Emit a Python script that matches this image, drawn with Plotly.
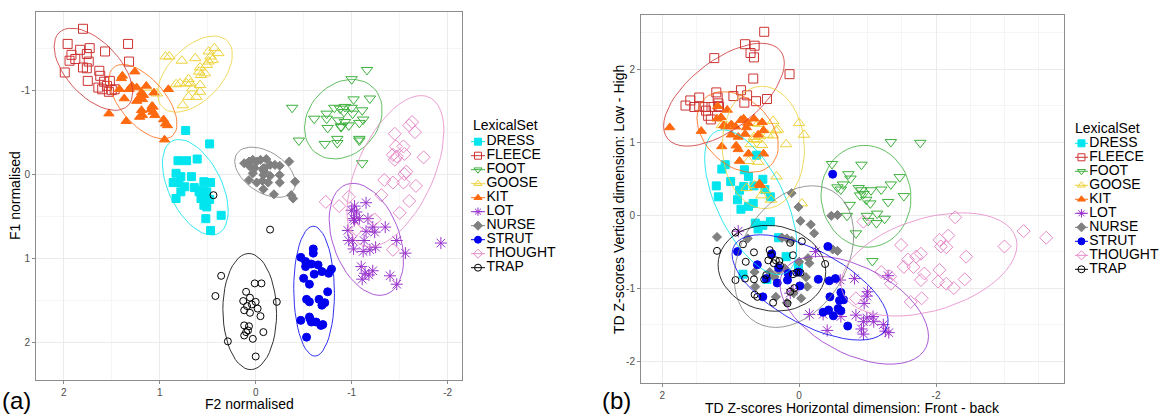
import numpy as np
import plotly.graph_objects as go

# ---------------------------------------------------------------------------
# Panel (a): normalised formants (F2 on x, F1 on y), one pair of lists per set
# ---------------------------------------------------------------------------
dress_f2 = [0.73, 0.48, 0.81, 0.72, 0.61, 0.83, 0.78, 0.67, 0.86, 0.80, 0.54, 0.47, 0.64, 0.74, 0.55, 0.78, 0.59, 0.51, 0.83, 0.57, 0.48, 0.54, 0.51, 0.36, 0.52, 0.47]
dress_f1 = [-0.52, -0.36, -0.16, -0.16, -0.18, -0.01, 0.03, 0.03, 0.10, 0.10, 0.09, 0.10, 0.16, 0.15, 0.19, 0.21, 0.21, 0.21, 0.29, 0.29, 0.30, 0.37, 0.39, 0.49, 0.53, 0.67]

fleece_f2 = [1.80, 1.96, 1.33, 1.83, 1.73, 1.92, 1.76, 1.57, 1.88, 1.94, 1.74, 1.32, 1.80, 1.76, 1.99, 1.63, 1.62, 1.52, 1.75, 1.58, 1.64, 1.55, 1.47, 1.53, 1.60, 1.50]
fleece_f1 = [-1.73, -1.55, -1.55, -1.48, -1.50, -1.42, -1.43, -1.46, -1.37, -1.35, -1.34, -1.34, -1.27, -1.26, -1.21, -1.23, -1.17, -1.11, -1.11, -1.10, -1.03, -1.05, -1.01, -0.98, -1.01, -1.00]

foot_f2 = [-1.16, -1.00, -1.02, -1.19, -0.38, -0.61, -0.74, -0.82, -0.88, -0.93, -1.00, -1.11, -0.92, -1.01, -1.12, -0.74, -0.86, -0.93, -0.97, -0.89, -0.75, -1.08, -0.45, -0.72, -0.85, -0.85, -1.08, -1.08, -1.11, -0.89]
foot_f1 = [-1.24, -1.13, -0.89, -0.90, -0.79, -0.66, -0.72, -0.79, -0.78, -0.80, -0.79, -0.76, -0.74, -0.72, -0.65, -0.66, -0.64, -0.62, -0.58, -0.57, -0.55, -0.61, -0.40, -0.36, -0.37, -0.42, -0.40, -0.42, -0.13, -0.56]

goose_f2 = [0.94, 0.90, 0.77, 0.63, 0.49, 0.43, 0.39, 0.47, 0.49, 0.51, 0.58, 0.59, 0.53, 0.57, 0.70, 0.79, 0.83, 0.72, 0.68, 0.58, 0.66, 0.70, 0.62, 0.58, 0.76, 1.14, 1.03, 0.45]
goose_f1 = [-1.40, -1.40, -1.35, -1.38, -1.46, -1.50, -1.44, -1.40, -1.34, -1.30, -1.27, -1.22, -1.20, -1.18, -1.13, -1.08, -1.07, -1.08, -1.08, -1.06, -1.02, -0.92, -0.92, -0.98, -0.82, -1.03, -0.96, -1.36]

kit_f2 = [1.39, 1.40, 1.26, 1.42, 1.32, 1.29, 1.37, 1.24, 1.14, 1.19, 1.17, 1.22, 1.24, 1.18, 1.06, 0.91, 1.08, 1.07, 1.09, 1.19, 1.21, 1.05, 1.07, 1.18, 0.96, 0.94, 0.92, 1.53, 1.35, 0.95]
kit_f1 = [-1.17, -1.14, -1.22, -1.01, -1.01, -1.05, -0.90, -1.03, -1.05, -0.97, -0.94, -0.90, -0.87, -0.89, -0.97, -1.01, -0.81, -0.80, -0.77, -0.76, -0.68, -0.70, -0.74, -0.70, -0.65, -0.60, -0.58, -0.72, -0.63, -0.41]

lot_f2 = [-1.15, -1.03, -1.00, -1.02, -1.08, -1.17, -1.22, -0.96, -1.15, -1.24, -1.35, -0.97, -1.01, -1.13, -1.47, -1.02, -1.12, -1.19, -1.25, -1.56, -1.10, -1.14, -1.22, -1.18, -1.11, -1.40, -1.47, -1.93, -1.05, -1.03]
lot_f1 = [0.34, 0.38, 0.43, 0.53, 0.53, 0.53, 0.63, 0.67, 0.68, 0.69, 0.63, 0.79, 0.79, 0.79, 0.79, 0.89, 0.92, 0.90, 0.87, 0.94, 1.10, 1.18, 1.15, 1.20, 1.25, 1.21, 1.31, 0.82, 0.45, 0.55]

nurse_f2 = [0.12, 0.07, 0.03, -0.01, -0.05, -0.11, -0.15, -0.20, -0.25, -0.35, 0.06, 0.01, -0.08, -0.09, -0.08, 0.03, 0.07, -0.01, -0.07, -0.13, -0.15, -0.25, -0.25, -0.41, -0.08, -0.19, -0.37, -0.39, -0.08, -0.09]
nurse_f1 = [-0.13, -0.15, -0.17, -0.15, -0.17, -0.18, -0.11, -0.11, -0.10, -0.15, -0.09, -0.07, -0.07, -0.03, 0.01, -0.01, 0.07, 0.10, 0.08, 0.10, 0.02, 0.01, 0.10, 0.09, 0.18, 0.24, 0.25, 0.29, -0.05, -0.07]

strut_f2 = [-0.60, -0.60, -0.47, -0.52, -0.58, -0.65, -0.52, -0.79, -0.76, -0.69, -0.61, -0.50, -0.56, -0.75, -0.53, -0.56, -0.66, -0.72, -0.69, -0.47, -0.56, -0.58, -0.63, -0.70, -0.53, -0.57, -0.68]
strut_f1 = [0.89, 0.94, 0.99, 1.04, 1.07, 1.08, 1.10, 1.13, 1.18, 1.16, 1.19, 1.24, 1.31, 1.40, 1.49, 1.52, 1.49, 1.53, 1.56, 1.74, 1.70, 1.76, 1.76, 1.79, 1.94, 1.73, 1.80]

thought_f2 = [-1.63, -1.60, -1.66, -1.45, -1.46, -1.54, -1.43, -1.47, -1.45, -1.55, -1.75, -1.57, -1.55, -1.34, -1.43, -1.54, -1.67, -1.60, -0.73, -0.87, -0.97, -1.31, -1.50, -1.05, -1.43, -1.24]
thought_f1 = [-0.62, -0.58, -0.50, -0.48, -0.33, -0.33, -0.23, -0.21, -0.17, -0.24, -0.20, -0.03, 0.00, 0.07, 0.10, 0.10, 0.14, 0.32, 0.33, 0.38, 0.27, 0.25, 0.46, 0.66, 0.90, 0.54]

trap_f2 = [-0.15, 0.36, 0.01, -0.06, 0.42, 0.10, 0.06, 0.13, 0.00, -0.22, 0.04, 0.09, -0.02, 0.12, 0.06, -0.05, 0.12, 0.07, 0.08, 0.10, 0.12, -0.08, 0.03, 0.29, 0.00, 0.44]
trap_f1 = [0.66, 1.21, 1.30, 1.30, 1.45, 1.40, 1.47, 1.51, 1.52, 1.52, 1.55, 1.57, 1.60, 1.62, 1.65, 1.69, 1.80, 1.81, 1.86, 1.88, 1.92, 1.88, 1.96, 1.99, 2.17, 0.25]

# ---------------------------------------------------------------------------
# Panel (b): TD z-scores (horizontal = front-back, vertical = low-high)
# ---------------------------------------------------------------------------
dress_h = [0.62, 1.08, 1.13, 0.80, 0.74, 0.53, 1.21, 1.00, 0.81, 0.87, 1.18, 0.66, 0.50, 0.90, 0.67, 0.74, 0.85, 0.42, 0.64, 0.53, 0.42, 0.60, 0.30, 0.19, 0.01, 0.82, 0.47]
dress_v = [0.82, 0.69, 0.63, 0.62, 0.53, 0.49, 0.40, 0.46, 0.39, 0.34, 0.25, 0.40, 0.35, 0.21, 0.16, 0.12, 0.08, 0.25, -0.11, -0.14, -0.09, -0.19, -0.31, -0.57, -0.70, -0.81, -0.88]

fleece_h = [0.51, 0.79, 0.65, 0.71, 0.66, 1.24, 0.67, 0.14, 0.85, 1.21, 1.19, 1.46, 1.59, 1.66, 1.53, 1.46, 1.38, 1.28, 1.18, 1.17, 0.96, 0.76, 0.80, 0.63, 0.47, 1.36, 1.29, 1.33, 1.18]
fleece_v = [2.51, 2.34, 2.32, 2.22, 2.16, 2.15, 1.87, 1.93, 1.71, 1.68, 1.61, 1.61, 1.57, 1.50, 1.48, 1.49, 1.48, 1.48, 1.53, 1.48, 1.63, 1.64, 1.54, 1.56, 1.59, 1.43, 1.31, 1.36, 1.49]

foot_h = [-1.34, -1.77, -0.48, -0.91, -0.72, -0.75, -1.47, -1.34, -1.20, -0.64, -0.56, -0.61, -0.87, -0.91, -1.05, -0.94, -0.89, -1.53, -1.30, -0.74, -0.98, -1.04, -1.14, -0.99, -0.70, -1.25, -1.01, -1.13, -0.83, -1.07]
foot_v = [1.00, 0.99, 0.70, 0.69, 0.56, 0.50, 0.52, 0.42, 0.35, 0.42, 0.38, 0.35, 0.37, 0.34, 0.34, 0.29, 0.27, 0.26, 0.18, 0.14, 0.21, 0.16, 0.02, -0.01, -0.01, -0.05, -0.08, -0.11, -0.25, -0.63]

goose_h = [1.13, 1.05, 0.66, 0.60, 0.38, 0.34, 0.31, 0.46, 0.38, 0.57, 0.66, 0.62, 0.71, 0.54, 0.66, 0.19, 0.00, -0.07, 0.74, 0.60, 0.33, 0.65, 0.50, 0.55, 0.41, -0.04, 0.77]
goose_v = [1.23, 1.22, 1.26, 1.25, 1.29, 1.16, 1.17, 1.10, 1.09, 1.08, 1.07, 1.03, 0.97, 0.96, 1.04, 0.97, 1.26, 1.10, 0.74, 0.73, 0.53, 0.41, 0.34, 0.27, 0.21, 0.16, 0.37]

kit_h = [1.89, 1.43, 1.19, 1.05, 1.14, 1.20, 1.10, 1.07, 0.99, 0.93, 0.85, 0.81, 0.66, 0.75, 0.77, 0.54, 0.52, 0.60, 0.79, 0.99, 0.89, 1.13, 0.92, 0.89, 0.74, 0.87, 0.52, 0.58, 0.57]
kit_v = [1.20, 1.15, 1.49, 1.44, 1.34, 1.32, 1.23, 1.21, 1.24, 1.21, 1.30, 1.32, 1.32, 1.26, 1.20, 1.27, 1.16, 1.10, 1.11, 1.10, 1.07, 0.94, 0.95, 0.90, 0.84, 0.74, 0.84, 0.43, 0.41]

lot_h = [0.89, -0.24, 0.13, 0.09, -0.15, -0.41, -0.61, -0.60, -0.81, -1.30, -1.00, -0.99, -0.95, -0.83, -0.91, -0.94, -0.99, -1.08, -0.94, -1.09, -1.23, -1.26, -1.31, -0.35]
lot_v = [-0.22, -0.50, -1.07, -1.04, -1.36, -1.58, -1.39, -0.89, -0.87, -0.83, -1.05, -1.11, -1.21, -1.37, -1.56, -1.63, -1.41, -1.39, -1.46, -1.46, -1.50, -1.59, -1.61, -1.36]

nurse_h = [0.11, 0.01, -0.02, -0.17, -0.22, -0.47, -0.56, 1.20, 0.75, 0.25, 0.18, 0.11, -0.49, -0.56, -0.13, 0.00, -0.15, 0.21, 0.30, 0.43, 0.36, 0.64, -0.12, 0.08, 0.34, 0.18, -0.10, -0.03, 0.65]
nurse_v = [0.30, 0.11, -0.08, -0.13, -0.25, -0.01, 0.00, -0.30, -0.32, -0.31, -0.32, -0.35, -0.47, -0.49, -0.59, -0.64, -0.66, -0.73, -0.76, -0.78, -0.85, -0.98, -0.98, -1.07, -1.12, -1.20, -0.85, -1.14, -0.78]

strut_h = [-0.49, 0.90, 0.40, 0.30, 0.61, -0.42, 0.16, 0.01, 0.17, 0.48, 0.32, -0.28, -0.44, -0.53, -0.01, 0.53, -0.61, -0.45, -0.65, -0.59, -0.57, -0.43, -0.35, -0.61, -0.50, -0.71]
strut_v = [0.56, -0.50, -0.53, -0.72, -0.68, -0.43, -0.80, -0.78, -0.89, -0.87, -0.93, -0.88, -0.90, -0.87, -0.97, -1.12, -1.06, -1.12, -1.16, -1.17, -1.28, -1.30, -1.33, -1.31, -1.38, -1.52]

thought_h = [-2.28, -3.28, -3.61, -3.00, -2.05, -2.18, -2.07, -2.15, -1.49, -1.78, -1.71, -1.59, -2.44, -1.53, -1.67, -2.05, -1.83, -1.78, -2.03, -2.15, -2.42, -2.26, -1.20, -1.34, -1.63, -1.79, -0.94, -0.83, -1.33]
thought_v = [-0.03, -0.22, -0.31, -0.43, -0.34, -0.28, -0.43, -0.44, -0.41, -0.53, -0.57, -0.61, -0.57, -0.71, -0.71, -0.75, -0.80, -0.89, -0.91, -0.94, -0.88, -1.00, -0.78, -0.94, -1.19, -1.14, -0.09, -1.14, -0.84]

trap_h = [1.20, 0.93, 0.82, 0.66, 0.78, 0.93, 0.79, 0.66, 0.48, 0.51, 0.43, 0.41, 0.45, 0.34, 0.37, 0.29, 0.28, 0.13, -0.04, 0.09, -0.38, 0.65, 0.61, 0.38, 0.17, 0.13, 0.07, 0.04, -0.02, 0.09]
trap_v = [-0.49, -0.24, -0.40, -0.51, -0.64, -0.89, -0.87, -0.88, -0.82, -0.88, -0.48, -0.55, -0.62, -0.62, -0.66, -0.63, -0.69, -0.38, -0.36, -0.55, -0.67, -1.09, -1.12, -1.20, -1.21, -1.05, -1.00, -0.79, -0.79, -0.81]

lexical_sets = ["DRESS", "FLEECE", "FOOT", "GOOSE", "KIT", "LOT", "NURSE", "STRUT", "THOUGHT", "TRAP"]
ticks_a = [-2, -1, 0, 1, 2]
tick_labels_a = ["-2", "-1", "0", "1", "2"]
ticks_b_x = [-2, 0, 2]
tick_labels_b_x = ["-2", "0", "2"]

panel_a = {
    "DRESS": (dress_f2, dress_f1), "FLEECE": (fleece_f2, fleece_f1), "FOOT": (foot_f2, foot_f1),
    "GOOSE": (goose_f2, goose_f1), "KIT": (kit_f2, kit_f1), "LOT": (lot_f2, lot_f1),
    "NURSE": (nurse_f2, nurse_f1), "STRUT": (strut_f2, strut_f1), "THOUGHT": (thought_f2, thought_f1),
    "TRAP": (trap_f2, trap_f1),
}
panel_b = {
    "DRESS": (dress_h, dress_v), "FLEECE": (fleece_h, fleece_v), "FOOT": (foot_h, foot_v),
    "GOOSE": (goose_h, goose_v), "KIT": (kit_h, kit_v), "LOT": (lot_h, lot_v),
    "NURSE": (nurse_h, nurse_v), "STRUT": (strut_h, strut_v), "THOUGHT": (thought_h, thought_v),
    "TRAP": (trap_h, trap_v),
}

# marker styling per lexical set
style = {
    "DRESS":   dict(color="#00E5EE", symbol="square", size=8),
    "FLEECE":  dict(color="#CD3333", symbol="square-open", size=9),
    "FOOT":    dict(color="#3DB03D", symbol="triangle-down-open", size=10),
    "GOOSE":   dict(color="#EED23A", symbol="triangle-up-open", size=10),
    "KIT":     dict(color="#FF6A10", symbol="triangle-up", size=9),
    "LOT":     dict(color="#9932CC", symbol="asterisk-open", size=10),
    "NURSE":   dict(color="#808080", symbol="diamond", size=7),
    "STRUT":   dict(color="#0000EE", symbol="circle", size=8),
    "THOUGHT": dict(color="#E68AC8", symbol="diamond-open", size=10),
    "TRAP":    dict(color="#000000", symbol="circle-open", size=7),
}


def cov_trob(pts, nu=5, maxit=25, tol=0.01):
    """Multivariate-t robust location/scatter (as MASS::cov.trob)."""
    x = np.asarray(pts, dtype=float)
    n, p = x.shape
    wt = np.ones(n)
    loc = x.mean(axis=0)
    w = np.sqrt(wt)
    X = x - loc
    for _ in range(maxit):
        w0 = w
        X = x - loc
        _, s, vt = np.linalg.svd(np.sqrt(w / w.sum())[:, None] * X, full_matrices=False)
        wX = X @ vt.T @ np.diag(1.0 / s)
        Q = (wX ** 2).sum(axis=1)
        w = wt * (nu + p) / (nu + Q)
        loc = (w[:, None] * x).sum(axis=0) / w.sum()
        if np.all(np.abs(w - w0) < tol):
            break
    sw = np.sqrt(w)[:, None] * X
    cov = sw.T @ sw / wt.sum()
    return loc, cov


def confidence_ellipse(xs, ys, level=0.95, segments=51):
    """95% t-based data ellipse (stat_ellipse default)."""
    pts = np.column_stack([xs, ys])
    n = len(xs)
    centre, shape = cov_trob(pts)
    dfd = n - 1
    # quantile of F(2, dfd) in closed form
    fq = dfd / 2.0 * ((1.0 - level) ** (-2.0 / dfd) - 1.0)
    radius = np.sqrt(2.0 * fq)
    chol_upper = np.linalg.cholesky(shape).T
    ang = np.linspace(0, 2 * np.pi, segments)
    unit = np.column_stack([np.cos(ang), np.sin(ang)])
    ell = centre + radius * unit @ chol_upper
    return ell[:, 0], ell[:, 1]


FONT = "Liberation Sans, Arial, sans-serif"
fig = go.Figure()

# scatter panels and their key columns (legend drawn on its own small axes)
panels = [
    (panel_a, "x", "y", "x3", "y3"),
    (panel_b, "x2", "y2", "x4", "y4"),
]
KEY_TEXT_X = 1.2

for data, xa, ya, kx, ky in panels:
    for name in lexical_sets:
        xs, ys = data[name]
        st = style[name]
        fig.add_trace(go.Scatter(
            x=xs, y=ys, mode="markers", xaxis=xa, yaxis=ya, name=name,
            marker=dict(symbol=st["symbol"], size=st["size"], color=st["color"],
                        line=dict(color=st["color"], width=1)),
        ))
    for name in lexical_sets:
        xs, ys = data[name]
        ex, ey = confidence_ellipse(xs, ys)
        fig.add_trace(go.Scatter(
            x=ex, y=ey, mode="lines", xaxis=xa, yaxis=ya, name=name,
            line=dict(color=style[name]["color"], width=1), opacity=0.8,
            hoverinfo="skip",
        ))
    # key: short path segment + point symbol + label, one row per lexical set
    for name in lexical_sets:
        st = style[name]
        fig.add_trace(go.Scatter(
            x=[-1, 1], y=[name, name], mode="lines", xaxis=kx, yaxis=ky,
            line=dict(color=st["color"], width=1), hoverinfo="skip", cliponaxis=False,
        ))
        fig.add_trace(go.Scatter(
            x=[0], y=[name], mode="markers", xaxis=kx, yaxis=ky,
            marker=dict(symbol=st["symbol"], size=7, color=st["color"],
                        line=dict(color=st["color"], width=1)),
            hoverinfo="skip", cliponaxis=False,
        ))
    fig.add_trace(go.Scatter(
        x=[KEY_TEXT_X] * len(lexical_sets), y=lexical_sets, mode="text", text=lexical_sets,
        textposition="middle right", xaxis=kx, yaxis=ky, cliponaxis=False,
        textfont=dict(family=FONT, size=14, color="#000000"),
        hoverinfo="skip",
    ))

axis_common = dict(
    showline=True, mirror=True, linecolor="#8C8C8C", linewidth=1,
    ticks="outside", ticklen=3, tickcolor="#8C8C8C",
    tickfont=dict(family=FONT, size=10, color="#4D4D4D"),
    showgrid=True, gridcolor="#EBEBEB", gridwidth=1, zeroline=False,
    minor=dict(dtick=0.5, tick0=0, showgrid=True, gridcolor="#F5F5F5", gridwidth=1, ticks=""),
)
key_x = dict(visible=False, range=[-1, KEY_TEXT_X], fixedrange=True)
key_y = dict(visible=False, type="category", categoryorder="array", categoryarray=lexical_sets,
             range=[9.5, -0.5], fixedrange=True)
title_font = dict(family=FONT, size=14, color="#000000")

fig.update_layout(
    width=1164, height=416,
    margin=dict(l=0, r=0, t=0, b=0),
    paper_bgcolor="white", plot_bgcolor="white",
    font=dict(family=FONT),
    showlegend=False,
    xaxis=dict(domain=[0.0309, 0.3969], range=[2.29, -2.15], anchor="y",
               tickmode="array", tickvals=ticks_a, ticktext=tick_labels_a, **axis_common),
    yaxis=dict(domain=[0.0865, 0.9712], range=[2.45, -1.93], anchor="x",
               tickmode="array", tickvals=ticks_a, ticktext=tick_labels_a, **axis_common),
    xaxis2=dict(domain=[0.5507, 0.9141], range=[2.31, -3.87], anchor="y2",
                tickmode="array", tickvals=ticks_b_x, ticktext=tick_labels_b_x, **axis_common),
    yaxis2=dict(domain=[0.0793, 0.9639], range=[-2.30, 2.74], anchor="x2",
                tickmode="array", tickvals=ticks_a, ticktext=tick_labels_a, **axis_common),
    xaxis3=dict(domain=[0.4046, 0.4179], anchor="y3", **key_x),
    yaxis3=dict(domain=[0.3397, 0.6762], anchor="x3", **key_y),
    xaxis4=dict(domain=[0.9235, 0.9358], anchor="y4", **key_x),
    yaxis4=dict(domain=[0.3358, 0.6724], anchor="x4", **key_y),
    annotations=[
        # axis titles
        dict(text="F2 normalised", x=249 / 1164, y=1 - 404 / 416, xref="paper", yref="paper",
             xanchor="center", yanchor="middle", showarrow=False, font=title_font),
        dict(text="F1 normalised", x=15 / 1164, y=1 - 196 / 416, xref="paper", yref="paper",
             xanchor="center", yanchor="middle", textangle=-90, showarrow=False, font=title_font),
        dict(text="TD Z-scores Horizontal dimension: Front - back", x=852 / 1164, y=1 - 407.5 / 416,
             xref="paper", yref="paper", xanchor="center", yanchor="middle", showarrow=False,
             font=title_font),
        dict(text="TD Z-scores Vertical dimension: Low - High", x=619 / 1164, y=1 - 200 / 416,
             xref="paper", yref="paper", xanchor="center", yanchor="middle", textangle=-90,
             showarrow=False, font=title_font),
        # key titles
        dict(text="LexicalSet", x=471 / 1164, y=1 - 125 / 416, xref="paper", yref="paper",
             xanchor="left", yanchor="middle", showarrow=False, font=title_font),
        dict(text="LexicalSet", x=1073 / 1164, y=1 - 128 / 416, xref="paper", yref="paper",
             xanchor="left", yanchor="middle", showarrow=False, font=title_font),
        # panel tags
        dict(text="(a)", x=0.0, y=0.0, xref="paper", yref="paper", xanchor="left", yanchor="bottom",
             showarrow=False, font=dict(family=FONT, size=24, color="#000")),
        dict(text="(b)", x=0.5155, y=0.0, xref="paper", yref="paper", xanchor="left", yanchor="bottom",
             showarrow=False, font=dict(family=FONT, size=24, color="#000")),
    ],
)

fig.write_html("out.html")
